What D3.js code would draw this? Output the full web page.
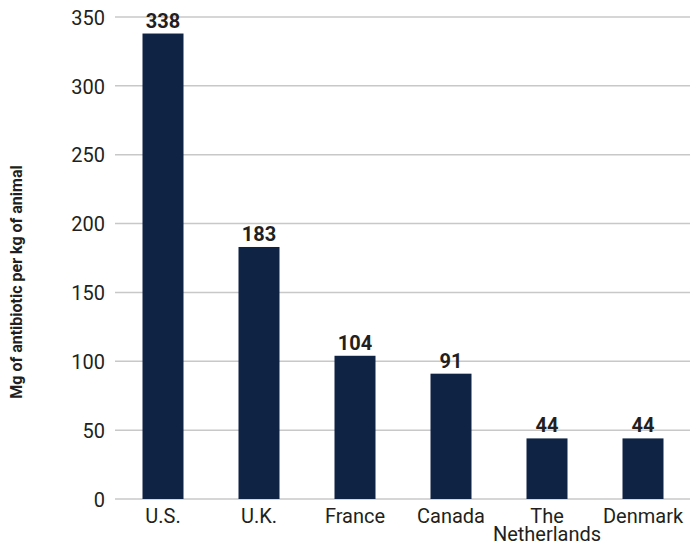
<!DOCTYPE html>
<html><head><meta charset="utf-8">
<script src="https://cdn.jsdelivr.net/npm/d3@7"></script>
<style>
html,body{margin:0;padding:0;background:#fff;}
text{font-family:Roboto,"Liberation Sans",sans-serif;fill:#231f20;}
</style></head>
<body><svg id="c" width="690" height="547"></svg>
<script>
const categories = ["U.S.", "U.K.", "France", "Canada", "The Netherlands", "Denmark"];
const values = [338, 183, 104, 91, 44, 44];
const yTicks = [0, 50, 100, 150, 200, 250, 300, 350];
const yTitle = "Mg of antibiotic per kg of animal";

const svg = d3.select("#c");
const mLeft = 115, mRight = 691, mTop = 17, mBottom = 499;
const x = d3.scaleBand().domain(categories).range([mLeft, mRight]).paddingInner(0.573).paddingOuter(0.2865);
const y = d3.scaleLinear().domain([0, 350]).range([mBottom, mTop]);

// grid
svg.append("g").selectAll("line").data(yTicks).join("line")
  .attr("x1", mLeft).attr("x2", 690)
  .attr("y1", d => y(d)).attr("y2", d => y(d))
  .attr("stroke", "#c8c8c8").attr("stroke-width", 1.5);

// y axis labels
const yAxis = d3.axisLeft(y).tickValues(yTicks).tickSize(0).tickPadding(0);
const ya = svg.append("g").attr("transform", `translate(105,0)`).call(yAxis);
ya.select(".domain").remove();
ya.selectAll("text").attr("font-size", 20).attr("dy", "0.36em")
  .style("font-family", 'Roboto,"Liberation Sans",sans-serif').attr("fill", "#231f20");

// bars
svg.append("g").selectAll("rect").data(values).join("rect")
  .attr("x", (d, i) => x(categories[i]))
  .attr("width", x.bandwidth())
  .attr("y", d => y(d))
  .attr("height", d => y(0) - y(d))
  .attr("fill", "#0f2344");

// value labels
svg.append("g").selectAll("text").data(values).join("text")
  .attr("x", (d, i) => x(categories[i]) + x.bandwidth() / 2)
  .attr("y", d => y(d) - 6)
  .attr("text-anchor", "middle")
  .attr("font-size", 20).attr("font-weight", "bold")
  .text(d => d);

// x labels
const xl = svg.append("g").selectAll("text").data(categories).join("text")
  .attr("x", d => x(d) + x.bandwidth() / 2)
  .attr("y", 523)
  .attr("text-anchor", "middle")
  .attr("font-size", 20);
xl.each(function(d) {
  const t = d3.select(this);
  const parts = d === "The Netherlands" ? ["The", "Netherlands"] : [d];
  parts.forEach((p, i) => {
    t.append("tspan").attr("x", x(d) + x.bandwidth() / 2).attr("dy", i === 0 ? 0 : 18).text(p);
  });
});

// y title
svg.append("text")
  .attr("transform", "translate(22,282) rotate(-90)")
  .attr("text-anchor", "middle")
  .attr("font-size", 16).attr("font-weight", "bold")
  .text(yTitle);
</script></body></html>
